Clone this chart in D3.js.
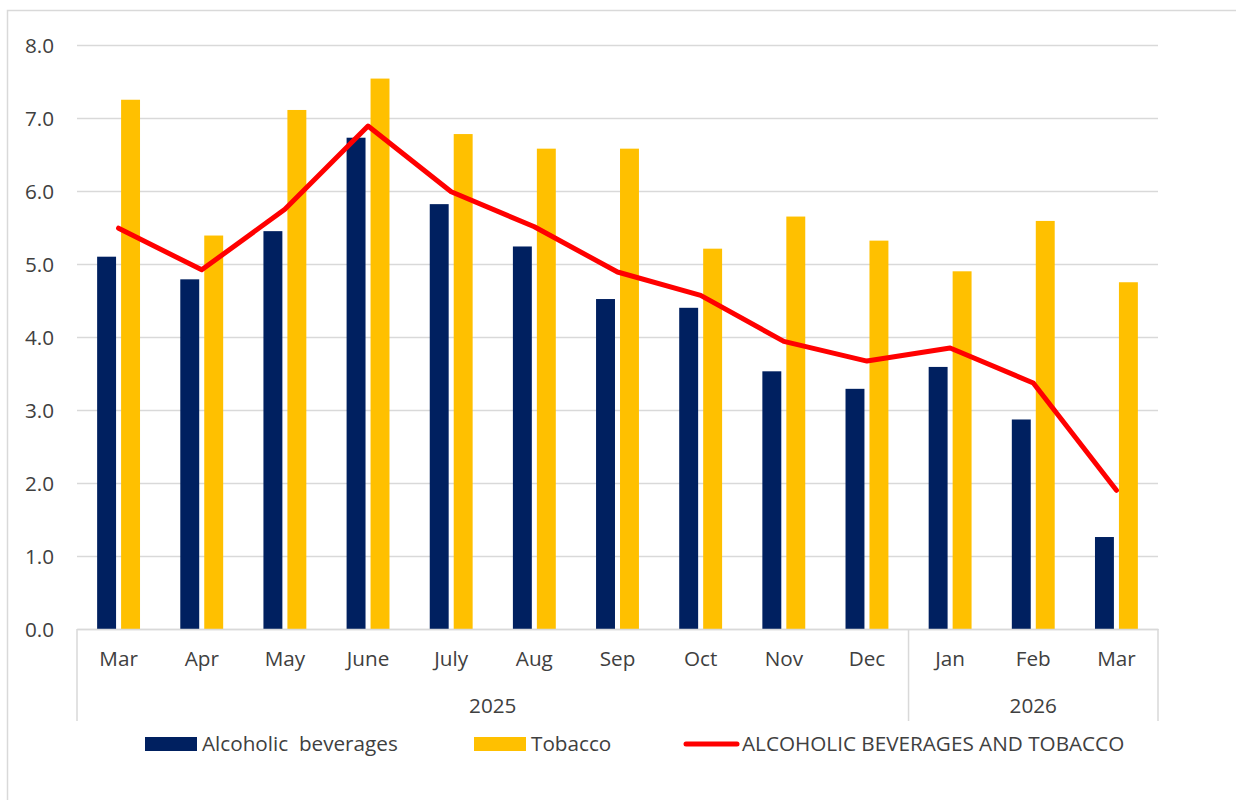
<!DOCTYPE html>
<html>
<head>
<meta charset="utf-8">
<style>
  body { margin: 0; background: #fff; }
  text { font-family: "Open Sans", "Noto Sans", sans-serif; fill: #404040; }
</style>
</head>
<body>
<div id="chart"></div>
<script src="https://cdn.jsdelivr.net/npm/d3@7/dist/d3.min.js"></script>
<script>
// ---- data ----
var months = ["Mar", "Apr", "May", "June", "July", "Aug", "Sep", "Oct", "Nov", "Dec", "Jan", "Feb", "Mar"];
var yearLabels = ["2025", "2026"];
var yearSpans = [[0, 9], [10, 12]];   // first and last month index of each year
var alcohol = [5.10, 4.79, 5.45, 6.73, 5.82, 5.24, 4.52, 4.40, 3.53, 3.29, 3.59, 2.87, 1.26];
var tobacco = [7.25, 5.39, 7.11, 7.54, 6.78, 6.58, 6.58, 5.21, 5.65, 5.32, 4.90, 5.59, 4.75];
var total = [5.49, 4.92, 5.75, 6.89, 5.99, 5.51, 4.89, 4.57, 3.94, 3.67, 3.85, 3.37, 1.90];
var yTicks = [0, 1, 2, 3, 4, 5, 6, 7, 8];
var seriesNames = ["Alcoholic  beverages", "Tobacco", "ALCOHOLIC BEVERAGES AND TOBACCO"];

var W = 1236, H = 800;
var plotLeft = 77, plotRight = 1158, plotTop = 45, plotBottom = 629;
var navy = "#002060", gold = "#FFC000", red = "#FF0000", grid = "#d9d9d9";
var fs = "20.7px";

var svg = d3.select("#chart").append("svg")
  .attr("width", W).attr("height", H);

// chart frame
svg.append("rect")
  .attr("x", 7.5).attr("y", 10.5)
  .attr("width", W).attr("height", H)
  .attr("fill", "#fff").attr("stroke", grid).attr("stroke-width", 1.5);

var x = d3.scaleBand()
  .domain(d3.range(months.length))
  .range([plotLeft, plotRight])
  .padding(0);

// two bars per month: ~19px wide, 5px apart
var sub = d3.scaleBand()
  .domain([0, 1])
  .range([0, x.bandwidth()])
  .paddingInner(0.21)
  .paddingOuter(0.84);

var y = d3.scaleLinear().domain([0, 8]).range([plotBottom, plotTop]);

// gridlines + y labels
var yAxis = d3.axisLeft(y)
  .tickValues(yTicks)
  .tickSize(-(plotRight - plotLeft))
  .tickPadding(23)
  .tickFormat(d3.format(".1f"));

var gy = svg.append("g")
  .attr("transform", "translate(" + plotLeft + ",0)")
  .call(yAxis);
gy.select(".domain").remove();
gy.selectAll(".tick line").attr("stroke", grid).attr("stroke-width", 1.5);
gy.selectAll(".tick text").style("font-size", fs).attr("dy", "0.35em");

// bars
svg.append("g").selectAll("rect")
  .data(alcohol)
  .enter().append("rect")
  .attr("x", function(d, i) { return x(i) + sub(0); })
  .attr("y", function(d) { return y(d); })
  .attr("width", sub.bandwidth())
  .attr("height", function(d) { return y(0) - y(d); })
  .attr("fill", navy);

svg.append("g").selectAll("rect")
  .data(tobacco)
  .enter().append("rect")
  .attr("x", function(d, i) { return x(i) + sub(1); })
  .attr("y", function(d) { return y(d); })
  .attr("width", sub.bandwidth())
  .attr("height", function(d) { return y(0) - y(d); })
  .attr("fill", gold);

// category axis
var xAxis = d3.axisBottom(x)
  .tickSize(0)
  .tickPadding(22)
  .tickFormat(function(i) { return months[i]; });

var gx = svg.append("g")
  .attr("transform", "translate(0," + plotBottom + ")")
  .call(xAxis);
gx.select(".domain").attr("stroke", grid).attr("stroke-width", 1.5);
gx.selectAll(".tick text").style("font-size", fs);

// year group separators and labels
var sepBottom = 721;
var seps = [plotLeft].concat(yearSpans.map(function(s) { return x(s[1]) + x.bandwidth(); }));
svg.append("g").selectAll("line")
  .data(seps)
  .enter().append("line")
  .attr("x1", function(d) { return d; })
  .attr("x2", function(d) { return d; })
  .attr("y1", plotBottom)
  .attr("y2", sepBottom)
  .attr("stroke", grid).attr("stroke-width", 1.5);

svg.append("g").selectAll("text")
  .data(yearLabels)
  .enter().append("text")
  .attr("x", function(d, i) {
    var s = yearSpans[i];
    return (x(s[0]) + x(s[1]) + x.bandwidth()) / 2;
  })
  .attr("y", 713)
  .attr("text-anchor", "middle")
  .style("font-size", fs)
  .text(function(d) { return d; });

// combined line
var line = d3.line()
  .x(function(d, i) { return x(i) + x.bandwidth() / 2; })
  .y(function(d) { return y(d); });

svg.append("path")
  .datum(total)
  .attr("fill", "none")
  .attr("stroke", red)
  .attr("stroke-width", 5)
  .attr("stroke-linejoin", "round")
  .attr("stroke-linecap", "round")
  .attr("d", line);

// legend
var legend = svg.append("g");
legend.append("rect").attr("x", 145).attr("y", 737).attr("width", 52).attr("height", 14).attr("fill", navy);
legend.append("text").attr("x", 202).attr("y", 751).style("font-size", fs).style("white-space", "pre")
  .attr("xml:space", "preserve").text(seriesNames[0]);
legend.append("rect").attr("x", 474).attr("y", 737).attr("width", 52).attr("height", 14).attr("fill", gold);
legend.append("text").attr("x", 531).attr("y", 751).style("font-size", fs).text(seriesNames[1]);
legend.append("line").attr("x1", 686).attr("x2", 737).attr("y1", 744).attr("y2", 744)
  .attr("stroke", red).attr("stroke-width", 5).attr("stroke-linecap", "round");
legend.append("text").attr("x", 742).attr("y", 751).style("font-size", fs).text(seriesNames[2]);
</script>
</body>
</html>
